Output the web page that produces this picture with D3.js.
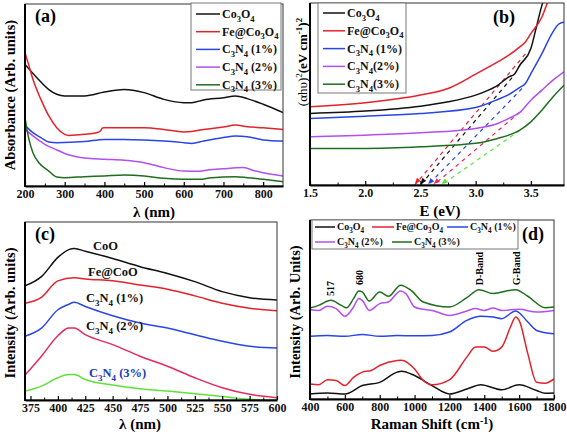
<!DOCTYPE html>
<html><head><meta charset="utf-8">
<script src="https://cdn.jsdelivr.net/npm/d3@7"></script>
<style>body{margin:0;background:#fff}svg{display:block}text{font-family:"Liberation Serif","Times New Roman",serif;font-weight:bold}</style>
</head><body><svg id="c" width="567" height="434"></svg>
<script>
// ---------- (a) UV-vis absorbance ----------
const absCo3O4 = [[200,66.8],[230,59.5],[260,53],[280,50.4],[300,49.5],[350,49.5],[400,51.6],[450,53],[500,51.3],[550,47.6],[600,45.8],[620,45.8],[650,47.3],[700,48.5],[730,49.5],[760,48],[800,44.9],[850,40.3]];
const absFeCo3O4 = [[200,73.3],[210,66],[220,58.6],[240,47.6],[260,38.5],[280,32],[300,28.4],[310,27.8],[350,28.4],[380,29.3],[390,30.2],[395,31.9],[400,32],[500,32],[550,31.1],[600,29.7],[620,29.9],[650,31.1],[700,32.4],[730,33.5],[760,32.6],[800,32],[850,31.1]];
const absC3N4_1 = [[200,33.3],[220,29.3],[240,26.6],[260,24.2],[280,23.8],[350,24.4],[400,25.6],[450,25.6],[500,25.3],[550,24.7],[600,23.8],[620,23.4],[650,24.7],[700,26.6],[730,27.5],[760,27.1],[800,25.3],[850,24.7]];
const absC3N4_2 = [[200,31.1],[220,27.5],[250,22.9],[280,19.8],[300,17.9],[330,16.1],[350,15.4],[400,14.7],[450,14.1],[500,12.8],[550,10.1],[600,8.2],[640,8.1],[660,8.8],[700,9.5],[750,10.1],[780,8.2],[800,7.3],[850,5.5]];
const absC3N4_3 = [[200,37.5],[210,25.6],[220,18.3],[235,12.8],[260,8.2],[280,4.9],[300,4.6],[350,5.1],[400,5.5],[450,6],[500,5.5],[550,4.2],[600,3.7],[640,3.7],[670,4.6],[730,5.1],[760,4.6],[800,3.7],[850,2.4]];
const aTicks = [200,300,400,500,600,700,800];

// ---------- (b) Tauc plot ----------
const taucCo3O4 = [[1.5,39.3],[2.0,40.6],[2.5,43.3],[2.75,45.7],[3.0,49.4],[3.1,51.7],[3.2,54.8],[3.3,59.4],[3.35,60.9],[3.4,65.8],[3.5,75],[3.55,86.8],[3.6,98.7],[3.63,104]];
const taucFeCo3O4 = [[1.5,43],[2.0,45.2],[2.5,49.4],[2.75,53],[3.0,60.9],[3.2,67.6],[3.3,71.3],[3.4,75.9],[3.45,78.6],[3.5,83.2],[3.6,92.3],[3.66,102]];
const taucC3N4_1 = [[1.5,36.6],[2.0,37.8],[2.5,39.3],[3.0,42.6],[3.2,47],[3.3,49.7],[3.4,53.6],[3.45,55.8],[3.5,61.2],[3.6,72.2],[3.7,84.1],[3.75,88.3],[3.8,89.6]];
const taucC3N4_2 = [[1.5,26.5],[2.0,27.4],[2.5,28.7],[3.0,31.1],[3.2,33.8],[3.3,36.6],[3.4,39.9],[3.5,46.6],[3.6,52.1],[3.7,57.6],[3.8,62.2]];
const taucC3N4_3 = [[1.5,20.1],[2.0,20.1],[2.5,21],[3.0,22.9],[3.2,25.6],[3.3,27.4],[3.4,30.2],[3.5,34.7],[3.6,41.1],[3.7,48.4],[3.8,54.8]];
const tanFeCo3O4 = [[3.45,72],[2.45,0]];
const tanCo3O4 = [[3.33,59],[2.5,0]];
const tanC3N4_1 = [[3.42,53],[2.57,0]];
const tanC3N4_2 = [[3.4,40],[2.62,0]];
const tanC3N4_3 = [[3.4,30],[2.69,0]];
const bTicks = [1.5,2.0,2.5,3.0,3.5];

// ---------- (c) PL ----------
const plCoO = [[370,64.1],[385,69.3],[400,80.1],[410,84.5],[415,85.1],[425,83.6],[450,79.5],[475,74.9],[500,71.1],[525,66.5],[550,60.9],[575,57.5],[600,56.2]];
const plFeCoO = [[370,54.4],[385,57.7],[400,66.9],[415,68.7],[425,68],[450,67],[475,64.6],[500,62.2],[525,58.5],[550,54.4],[575,51.6],[600,50.1]];
const plC3N4_1 = [[370,35.8],[385,40.4],[400,50.7],[410,53.8],[415,54.9],[425,52.5],[450,47.3],[475,43.2],[500,40.4],[525,36.7],[550,33],[575,30.2],[600,29.2]];
const plC3N4_2 = [[370,14],[385,24.6],[400,36.1],[410,40.4],[415,40.4],[425,36.7],[450,31.1],[475,24.6],[500,19],[525,12.5],[550,6.9],[575,3.2],[600,1.3]];
const plC3N4_3 = [[370,5],[385,7.8],[400,12.5],[410,14.3],[415,14.3],[425,11.5],[450,8.4],[475,6.3],[500,5],[525,3.5],[550,1.9],[575,0.4],[600,0]];
const cTicks = [375,400,425,450,475,500,525,550,575,600];

// ---------- (d) Raman ----------
const ramCo3O4 = [[400,2.8],[500,3.4],[600,2.8],[700,7.5],[800,9.3],[900,15],[925,15.5],[1000,13.1],[1100,7.5],[1200,2.8],[1300,5.6],[1380,8],[1500,5.2],[1600,7.9],[1700,4.7],[1750,3.2],[1800,3.4]];
const ramFeCo3O4 = [[400,8.4],[450,8],[500,10.7],[550,10.3],[600,7.5],[650,12.1],[700,15],[750,15.9],[800,18.7],[900,21.5],[925,21.7],[1000,16.8],[1050,10.3],[1100,7.9],[1200,10.7],[1300,23.4],[1350,29],[1400,29],[1450,26.7],[1500,29],[1550,40.2],[1580,45.8],[1600,43.9],[1650,25.2],[1700,9.3],[1750,8.8],[1800,11.2]];
const ramC3N4_1 = [[400,35],[500,35.5],[600,35],[700,36.1],[800,35],[900,35.5],[1000,35.3],[1100,35.5],[1200,37.4],[1300,43.9],[1380,46.2],[1450,45.8],[1500,44.9],[1580,49.2],[1650,43],[1700,38.3],[1800,36.4]];
const ramC3N4_2 = [[400,49.9],[450,49.5],[500,51.8],[550,50.5],[600,46.2],[650,51.4],[680,56.1],[700,55.1],[740,49.5],[800,53.3],[850,54.2],[920,60.4],[950,58.9],[1000,51.4],[1050,50.1],[1100,49.5],[1200,46.7],[1300,49.2],[1350,50.5],[1400,49.5],[1450,50.8],[1500,49.5],[1600,50.1],[1700,48.6],[1800,49.5]];
const ramC3N4_3 = [[400,50.8],[450,52.3],[520,55.1],[580,52.3],[610,51],[650,56.1],[680,60.4],[700,59.8],[740,54.8],[800,59.8],[850,57.4],[920,63.6],[980,60.7],[1050,54.2],[1200,51.4],[1300,56.6],[1370,61.1],[1450,58.9],[1580,61.1],[1650,57.4],[1750,51],[1800,51.4]];
const dTicks = [400,600,800,1000,1200,1400,1600,1800];
const ramanPeaks = [["517",517,57.5],["680",680,63.7],["D-Band",1370,63.5],["G-Band",1580,63.5]];

// ---------- colours / labels ----------
const colBlack="#111111", colRed="#e3222b", colBlue="#2a45e6", colPurple="#b24ff0", colGreen="#1e6e1e", colCrimson="#e42a5c", colLime="#5ee23a";

const svg = d3.select("#c");

function rich(sel, str, fs){
  const re=/([_^])\{([^}]*)\}/g; let last=0, m, cur=0;
  const add=(t,shift,size)=>{ if(!t) return; const ts=sel.append("tspan").text(t).attr("dy",shift-cur); if(size) ts.attr("font-size",size); cur=shift; };
  while((m=re.exec(str))){ add(str.slice(last,m.index),0,null); add(m[2], m[1]==="_"?0.3*fs:-0.42*fs, 0.72*fs); last=re.lastIndex; }
  add(str.slice(last),0,null);
}

function panel(o){
  const g=svg.append("g");
  const x=d3.scaleLinear().domain(o.xd).range([o.x0,o.x1]);
  const y=d3.scaleLinear().domain([0,100]).range([o.y1,o.y0]);
  const id="clip"+o.name;
  svg.append("clipPath").attr("id",id).append("rect").attr("x",o.x0).attr("y",o.y0).attr("width",o.x1-o.x0).attr("height",o.y1-o.y0);
  const line=d3.line().x(d=>x(d[0])).y(d=>y(d[1])).curve(d3.curveMonotoneX);
  const lg=g.append("g").attr("clip-path",`url(#${id})`);
  (o.dashes||[]).forEach(s=>{
    lg.append("path").attr("d",d3.line().x(d=>x(d[0])).y(d=>y(d[1]))(s.data)).attr("fill","none").attr("stroke",s.color).attr("stroke-width",1.2).attr("stroke-dasharray","4,4");
    const p=s.data[1], q=s.data[0];
    const px=x(p[0]), py=y(p[1]), ang=Math.atan2(py-y(q[1]), px-x(q[0]));
    lg.append("path").attr("d",`M0,0L-6,-2.5L-6,2.5Z`).attr("fill",s.color).attr("transform",`translate(${px},${py-1})rotate(${ang*180/Math.PI})`);
  });
  o.series.forEach(s=>{
    lg.append("path").attr("d",line(s.data)).attr("fill","none").attr("stroke",s.color).attr("stroke-width",1.5).attr("stroke-linejoin","round");
  });
  g.append("rect").attr("x",o.x0).attr("y",o.y0).attr("width",o.x1-o.x0).attr("height",o.y1-o.y0).attr("fill","none").attr("stroke","#333").attr("stroke-width",1);
  const ax=g.append("g").attr("transform",`translate(0,${o.y1})`)
    .call(d3.axisBottom(x).tickValues(o.ticks).tickFormat(o.fmt||d3.format("d")).tickSizeInner(-4).tickSizeOuter(0).tickPadding(3));
  ax.select(".domain").attr("stroke","#000").attr("stroke-width",2);
  ax.selectAll("text").attr("font-size",12).attr("fill","#111").style("font-family",'"Liberation Serif",serif').style("font-weight","bold");
  ax.selectAll(".tick line").attr("stroke-width",1.2);
  const minor=[]; for(let i=0;i<o.ticks.length-1;i++) minor.push((o.ticks[i]+o.ticks[i+1])/2);
  g.append("g").attr("transform",`translate(0,${o.y1})`).call(d3.axisBottom(x).tickValues(minor).tickFormat("").tickSizeInner(-2.5).tickSizeOuter(0)).select(".domain").remove();
  g.append("line").attr("x1",o.x0).attr("x2",o.x0).attr("y1",o.y0).attr("y2",o.y1+1).attr("stroke","#000").attr("stroke-width",2);
  return {g,x,y};
}

function legendBox(bx,by,bw,bh,items){
  svg.append("rect").attr("x",bx).attr("y",by).attr("width",bw).attr("height",bh).attr("fill","#fff").attr("stroke","#777").attr("stroke-width",1);
  items.forEach(it=>{
    svg.append("line").attr("x1",it.x).attr("x2",it.x+it.len).attr("y1",it.y).attr("y2",it.y).attr("stroke",it.color).attr("stroke-width",1.5);
    const fs=it.fs||12;
    const t=svg.append("text").attr("x",it.x+it.len+2).attr("y",it.y+fs*0.33).attr("font-size",fs).attr("fill","#111");
    rich(t,it.label,fs);
  });
}

const names=["Co_{3}O_{4}","Fe@Co_{3}O_{4}","C_{3}N_{4} (1%)","C_{3}N_{4} (2%)","C_{3}N_{4} (3%)"];

// (a)
panel({name:"a",xd:[200,850],x0:25,x1:283,y0:4,y1:186,ticks:aTicks,
  series:[{data:absCo3O4,color:colBlack},{data:absFeCo3O4,color:colRed},{data:absC3N4_1,color:colBlue},{data:absC3N4_2,color:colPurple},{data:absC3N4_3,color:colGreen}]});
legendBox(191,3,90,87,names.map((n,i)=>({x:196,len:24,y:14+i*17.7,color:[colBlack,colRed,colBlue,colPurple,colGreen][i],label:n})));
svg.append("text").attr("x",35).attr("y",22).attr("font-size",18).text("(a)");
svg.append("text").attr("x",154).attr("y",217).attr("text-anchor","middle").attr("font-size",15).text("λ (nm)");
svg.append("text").attr("transform","translate(15,95)rotate(-90)").attr("text-anchor","middle").attr("font-size",14.5).text("Absorbance (Arb. units)");

// (b)
panel({name:"b",xd:[1.5,3.8],x0:310,x1:564,y0:3,y1:185,ticks:bTicks,fmt:d3.format(".1f"),
  series:[{data:taucCo3O4,color:colBlack},{data:taucFeCo3O4,color:colRed},{data:taucC3N4_1,color:colBlue},{data:taucC3N4_2,color:colPurple},{data:taucC3N4_3,color:colGreen}],
  dashes:[{data:tanFeCo3O4,color:colRed},{data:tanCo3O4,color:colBlack},{data:tanC3N4_1,color:colBlue},{data:tanC3N4_2,color:colCrimson},{data:tanC3N4_3,color:colLime}]});
legendBox(318,3,88,90,["Co_{3}O_{4}","Fe@Co_{3}O_{4}","C_{3}N_{4} (1%)","C_{3}N_{4}(2%)","C_{3}N_{4}(3%)"].map((n,i)=>({x:323,len:22,y:13+i*17.8,color:[colBlack,colRed,colBlue,colPurple,colGreen][i],label:n})));
svg.append("text").attr("x",493).attr("y",23).attr("font-size",18).text("(b)");
svg.append("text").attr("x",440).attr("y",216).attr("text-anchor","middle").attr("font-size",15).text("E (eV)");
{const t=svg.append("text").attr("transform","translate(307,62)rotate(-90)").attr("text-anchor","middle").attr("font-size",13);
 t.append("tspan").attr("font-weight","normal").text("(αhυ)");
 t.append("tspan").attr("font-size",9).attr("dy",-5).attr("font-weight","normal").text("2");
 t.append("tspan").attr("dy",5).text("(eV cm");
 t.append("tspan").attr("font-size",9).attr("dy",-5).text("-1");
 t.append("tspan").attr("dy",5).text(")");
 t.append("tspan").attr("font-size",9).attr("dy",-5).text("2");}

// (c)
panel({name:"c",xd:[370,600],x0:25,x1:277,y0:222,y1:400,ticks:cTicks,
  series:[{data:plCoO,color:colBlack},{data:plFeCoO,color:colRed},{data:plC3N4_1,color:colBlue},{data:plC3N4_2,color:colCrimson},{data:plC3N4_3,color:colLime}]});
const plLabels=[["CoO",93,250,"#111"],["Fe@CoO",88,276,"#111"],["C_{3}N_{4} (1%)",86,302,"#111"],["C_{3}N_{4} (2%)",86,330,"#111"],["C_{3}N_{4} (3%)",89,377,"#2038c0"]];
plLabels.forEach(l=>{const t=svg.append("text").attr("x",l[1]).attr("y",l[2]).attr("font-size",12.5).attr("fill",l[3]); rich(t,l[0],12.5);});
svg.append("text").attr("x",35).attr("y",240).attr("font-size",18).text("(c)");
svg.append("text").attr("x",140).attr("y",429).attr("text-anchor","middle").attr("font-size",15).text("λ (nm)");
svg.append("text").attr("transform","translate(15,313)rotate(-90)").attr("text-anchor","middle").attr("font-size",14.5).text("Intensity (Arb. units)");

// (d)
const pd=panel({name:"d",xd:[400,1800],x0:310,x1:554,y0:220,y1:399,ticks:dTicks,
  series:[{data:ramCo3O4,color:colBlack},{data:ramFeCo3O4,color:colRed},{data:ramC3N4_1,color:colBlue},{data:ramC3N4_2,color:colPurple},{data:ramC3N4_3,color:colGreen}]});
legendBox(312,220,206,29,[
  {x:315,len:20,y:227,color:colBlack,label:"Co_{3}O_{4}",fs:10},
  {x:372,len:22,y:227,color:colRed,label:"Fe@Co_{3}O_{4}",fs:10},
  {x:447,len:21,y:227,color:colBlue,label:"C_{3}N_{4} (1%)",fs:10},
  {x:315,len:20,y:242,color:colPurple,label:"C_{3}N_{4} (2%)",fs:10},
  {x:392,len:20,y:242,color:colGreen,label:"C_{3}N_{4} (3%)",fs:10}]);
svg.append("text").attr("x",522).attr("y",240).attr("font-size",18).text("(d)");
ramanPeaks.forEach(p=>{
  svg.append("text").attr("transform",`translate(${pd.x(p[1])+4},${pd.y(p[2])})rotate(-90)`).attr("font-size",10).text(p[0]);
});
{const t=svg.append("text").attr("x",432).attr("y",429).attr("text-anchor","middle").attr("font-size",15);
 t.append("tspan").text("Raman Shift (cm");
 t.append("tspan").attr("font-size",10).attr("dy",-5).text("-1");
 t.append("tspan").attr("dy",5).text(")");}
svg.append("text").attr("transform","translate(300,312)rotate(-90)").attr("text-anchor","middle").attr("font-size",14.5).text("Intensity (Arb. Units)");
</script></body></html>
